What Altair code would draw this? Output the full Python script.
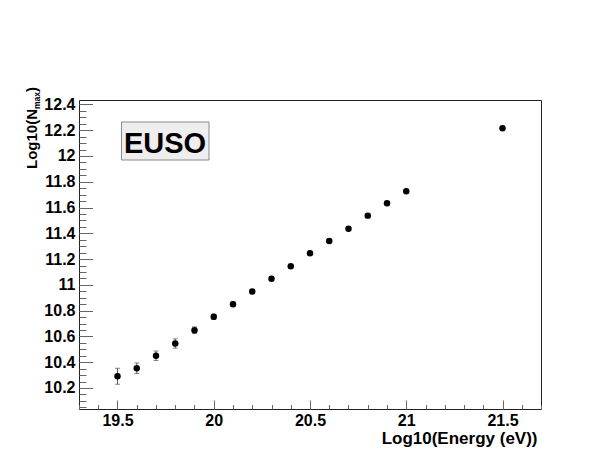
import altair as alt
import pandas as pd

# ---- data ----
energy = [19.5, 19.6, 19.7, 19.8, 19.9, 20.0, 20.1, 20.2, 20.3, 20.4, 20.5,
          20.6, 20.7, 20.8, 20.9, 21.0, 21.5]
log_nmax = [10.291, 10.353, 10.450, 10.545, 10.648, 10.752, 10.850, 10.948,
            11.047, 11.144, 11.245, 11.341, 11.436, 11.537, 11.633, 11.726, 12.214]
err = [0.062, 0.041, 0.037, 0.036, 0.026, 0.020, 0.018, 0.016, 0.015, 0.014,
       0.013, 0.012, 0.012, 0.011, 0.011, 0.010, 0.008]

x_major = [19.5, 20.0, 20.5, 21.0, 21.5]
x_minor = [19.3, 19.4, 19.5, 19.6, 19.7, 19.8, 19.9, 20.0, 20.1, 20.2, 20.3,
           20.4, 20.5, 20.6, 20.7, 20.8, 20.9, 21.0, 21.1, 21.2, 21.3, 21.4,
           21.5, 21.6, 21.7]
y_major = [10.2, 10.4, 10.6, 10.8, 11.0, 11.2, 11.4, 11.6, 11.8, 12.0, 12.2, 12.4]
y_minor = [10.05, 10.1, 10.15, 10.2, 10.25, 10.3, 10.35, 10.4, 10.45, 10.5,
           10.55, 10.6, 10.65, 10.7, 10.75, 10.8, 10.85, 10.9, 10.95, 11.0,
           11.05, 11.1, 11.15, 11.2, 11.25, 11.3, 11.35, 11.4, 11.45, 11.5,
           11.55, 11.6, 11.65, 11.7, 11.75, 11.8, 11.85, 11.9, 11.95, 12.0,
           12.05, 12.1, 12.15, 12.2, 12.25, 12.3, 12.35, 12.4]

x_domain = [19.3, 21.7]
y_domain = [10.037, 12.434]

x_title = "Log10(Energy (eV))"
y_title_main = "Log10(N"
y_title_sub = "max"
y_title_end = ")"
box_label = "EUSO"

df = pd.DataFrame({"x": energy, "y": log_nmax, "e": err})
df["lo"] = df["y"] - df["e"]
df["hi"] = df["y"] + df["e"]

W, H = 462, 309
FONT = "Liberation Sans"
xs = alt.Scale(domain=x_domain, nice=False, zero=False)
ys = alt.Scale(domain=y_domain, nice=False, zero=False)
TICK = "#666666"

base = alt.Chart(df)

minor = base.mark_point(opacity=0).encode(
    x=alt.X("x:Q", scale=xs, axis=alt.Axis(orient="bottom", values=x_minor, tickSize=4.5,
                                           offset=-4.5, labels=False, domain=False, grid=False,
                                           title=None, tickColor=TICK, tickWidth=1)),
    y=alt.Y("y:Q", scale=ys, axis=alt.Axis(orient="left", values=y_minor, tickSize=7,
                                           offset=-7, labels=False, domain=False, grid=False,
                                           title=None, tickColor=TICK, tickWidth=1)),
)

bars = base.mark_rule(color="#555555", strokeWidth=1).encode(
    x=alt.X("x:Q", scale=xs, axis=alt.Axis(
        orient="bottom", values=x_major, tickSize=9, offset=-9, domain=False, grid=False,
        tickColor=TICK, tickWidth=1, format="~g",
        labelFont=FONT, labelFontSize=16, labelFontWeight="bold", labelColor="black",
        labelPadding=3,
        title=x_title, titleFont=FONT, titleFontSize=17, titleFontWeight="bold",
        titleColor="black", titleX=458, titleY=43, titleAlign="right",
        titleBaseline="alphabetic")),
    y=alt.Y("lo:Q", scale=ys, axis=alt.Axis(
        orient="left", values=y_major, tickSize=13.5, offset=-13.5, domain=False, grid=False,
        tickColor=TICK, tickWidth=1, format="~g",
        labelFont=FONT, labelFontSize=16, labelFontWeight="bold", labelColor="black",
        labelPadding=4, title=None)),
    y2="hi:Q",
)

cap_lo = base.mark_tick(orient="horizontal", size=5, thickness=1, color="#555555").encode(
    x=alt.X("x:Q", scale=xs, axis=None), y=alt.Y("lo:Q", scale=ys, axis=None))
cap_hi = base.mark_tick(orient="horizontal", size=5, thickness=1, color="#555555").encode(
    x=alt.X("x:Q", scale=xs, axis=None), y=alt.Y("hi:Q", scale=ys, axis=None))

points = base.mark_circle(size=42, color="black", opacity=1).encode(
    x=alt.X("x:Q", scale=xs, axis=None), y=alt.Y("y:Q", scale=ys, axis=None))

lab = alt.Chart(pd.DataFrame({"t": [box_label]}))
box = lab.mark_rect(fill="#eeeeee", stroke="#8a8a8a", strokeWidth=1).encode(
    x=alt.value(42.5), x2=alt.value(130), y=alt.value(22), y2=alt.value(60))
box_text = lab.mark_text(font=FONT, fontSize=29, fontWeight="bold", color="black",
                         align="center", baseline="alphabetic").encode(
    x=alt.value(86), y=alt.value(53), text="t:N")

FS, FSS = 15, 8.5
Y0 = 69
w1 = 4.0 * FS
w2 = 2.001 * FSS
yt1 = alt.Chart(pd.DataFrame({"t": [y_title_main]})).mark_text(
    font=FONT, fontSize=FS, fontWeight="bold", color="black", angle=270,
    align="left", baseline="alphabetic").encode(x=alt.value(-42), y=alt.value(Y0), text="t:N")
yt2 = alt.Chart(pd.DataFrame({"t": [y_title_sub]})).mark_text(
    font=FONT, fontSize=FSS, fontWeight="bold", color="black", angle=270,
    align="left", baseline="alphabetic").encode(x=alt.value(-39), y=alt.value(Y0 - w1), text="t:N")
yt3 = alt.Chart(pd.DataFrame({"t": [y_title_end]})).mark_text(
    font=FONT, fontSize=FS, fontWeight="bold", color="black", angle=270,
    align="left", baseline="alphabetic").encode(x=alt.value(-42), y=alt.value(Y0 - w1 - w2), text="t:N")

chart = alt.layer(minor, bars, cap_lo, cap_hi, points, box, box_text, yt1, yt2, yt3).resolve_axis(
    x="independent", y="independent"
).properties(
    width=W, height=H,
    autosize=alt.AutoSizeParams(type="none"),
    padding={"left": 71, "top": 92, "right": 40, "bottom": 38},
    background="white",
).configure_view(stroke="#222222", strokeWidth=1)

chart.save("out.html", embed_options={"renderer": "svg", "actions": False})
